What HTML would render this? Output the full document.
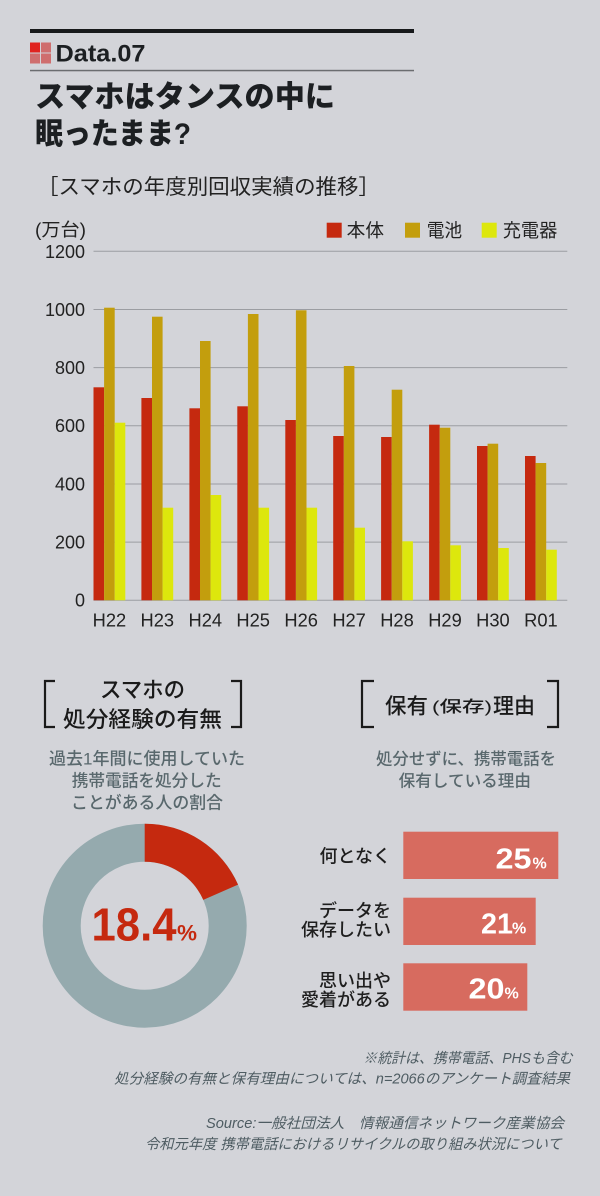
<!DOCTYPE html>
<html><head><meta charset="utf-8">
<style>
html,body{margin:0;padding:0;background:#d3d4d9;}
svg{display:block;}
.jp{font-family:"Liberation Sans","Noto Sans CJK JP",sans-serif;}
.lat{font-family:"Liberation Sans",sans-serif;}
</style></head>
<body>
<svg width="600" height="1196" viewBox="0 0 600 1196" xmlns="http://www.w3.org/2000/svg">
<rect width="600" height="1196" fill="#d3d4d9"/>

<!-- header -->
<rect x="30" y="29" width="384" height="4" fill="#17191b"/>
<rect x="30" y="42.5" width="10" height="10" fill="#e0231f"/>
<rect x="41" y="42.5" width="10" height="10" fill="#cf6e6e"/>
<rect x="30" y="53.5" width="10" height="10" fill="#cf6e6e"/>
<rect x="41" y="53.5" width="10" height="10" fill="#cf6e6e"/>
<text x="55.5" y="61.7" class="lat" font-size="24" font-weight="700" fill="#1c1f22" textLength="90" lengthAdjust="spacingAndGlyphs">Data.07</text>
<rect x="30" y="69.8" width="384" height="1.5" fill="#6b6d70"/>

<text x="35" y="107" class="jp" font-size="30" font-weight="900" fill="#1c1f22" textLength="300" lengthAdjust="spacingAndGlyphs">スマホはタンスの中に</text>
<text x="35" y="144" class="jp" font-size="30" font-weight="900" fill="#1c1f22" textLength="156" lengthAdjust="spacingAndGlyphs">眠ったまま?</text>

<text x="37" y="194" class="jp" font-size="21" fill="#222" textLength="343" lengthAdjust="spacingAndGlyphs">［スマホの年度別回収実績の推移］</text>

<text x="35" y="236" class="jp" font-size="18" fill="#222" textLength="51" lengthAdjust="spacingAndGlyphs">(万台)</text>

<!-- legend -->
<rect x="326.7" y="222.7" width="15" height="15" fill="#c5290f"/>
<text x="346.7" y="237" class="jp" font-size="18.5" fill="#222" textLength="37.3" lengthAdjust="spacingAndGlyphs">本体</text>
<rect x="405" y="222.7" width="15" height="15" fill="#c39e0d"/>
<text x="426.7" y="237" class="jp" font-size="18.5" fill="#222" textLength="35.5" lengthAdjust="spacingAndGlyphs">電池</text>
<rect x="481.7" y="222.7" width="15" height="15" fill="#dde70d"/>
<text x="502.7" y="237" class="jp" font-size="18.5" fill="#222" textLength="54.6" lengthAdjust="spacingAndGlyphs">充電器</text>

<!-- gridlines -->
<g stroke="#9b9da2" stroke-width="1">
<line x1="93.5" y1="251.3" x2="567.3" y2="251.3"/>
<line x1="93.5" y1="309.5" x2="567.3" y2="309.5"/>
<line x1="93.5" y1="367.6" x2="567.3" y2="367.6"/>
<line x1="93.5" y1="425.8" x2="567.3" y2="425.8"/>
<line x1="93.5" y1="484" x2="567.3" y2="484"/>
<line x1="93.5" y1="542.1" x2="567.3" y2="542.1"/>
<line x1="93.5" y1="600.3" x2="567.3" y2="600.3"/>
</g>
<g class="lat" font-size="18" fill="#222" text-anchor="end">
<text x="85" y="258">1200</text>
<text x="85" y="316">1000</text>
<text x="85" y="374">800</text>
<text x="85" y="432">600</text>
<text x="85" y="490.5">400</text>
<text x="85" y="548.5">200</text>
<text x="85" y="606.5">0</text>
</g>

<!-- bars -->
<g>
<!-- H22 -->
<rect x="93.5" y="387.3" width="10.6" height="213" fill="#c5290f"/>
<rect x="104.1" y="307.7" width="10.6" height="292.6" fill="#c39e0d"/>
<rect x="114.7" y="422.7" width="10.6" height="177.6" fill="#dde70d"/>
<!-- H23 -->
<rect x="141.4" y="398" width="10.6" height="202.3" fill="#c5290f"/>
<rect x="152" y="316.7" width="10.6" height="283.6" fill="#c39e0d"/>
<rect x="162.6" y="507.7" width="10.6" height="92.6" fill="#dde70d"/>
<!-- H24 -->
<rect x="189.4" y="408.3" width="10.6" height="192" fill="#c5290f"/>
<rect x="200" y="341" width="10.6" height="259.3" fill="#c39e0d"/>
<rect x="210.6" y="495" width="10.6" height="105.3" fill="#dde70d"/>
<!-- H25 -->
<rect x="237.3" y="406.3" width="10.6" height="194" fill="#c5290f"/>
<rect x="247.9" y="314" width="10.6" height="286.3" fill="#c39e0d"/>
<rect x="258.5" y="507.7" width="10.6" height="92.6" fill="#dde70d"/>
<!-- H26 -->
<rect x="285.3" y="420" width="10.6" height="180.3" fill="#c5290f"/>
<rect x="295.9" y="310.3" width="10.6" height="290" fill="#c39e0d"/>
<rect x="306.5" y="507.7" width="10.6" height="92.6" fill="#dde70d"/>
<!-- H27 -->
<rect x="333.2" y="436" width="10.6" height="164.3" fill="#c5290f"/>
<rect x="343.8" y="366" width="10.6" height="234.3" fill="#c39e0d"/>
<rect x="354.4" y="527.7" width="10.6" height="72.6" fill="#dde70d"/>
<!-- H28 -->
<rect x="381.1" y="437" width="10.6" height="163.3" fill="#c5290f"/>
<rect x="391.7" y="389.7" width="10.6" height="210.6" fill="#c39e0d"/>
<rect x="402.3" y="541.3" width="10.6" height="59" fill="#dde70d"/>
<!-- H29 -->
<rect x="429.1" y="424.7" width="10.6" height="175.6" fill="#c5290f"/>
<rect x="439.7" y="427.7" width="10.6" height="172.6" fill="#c39e0d"/>
<rect x="450.3" y="545.3" width="10.6" height="55" fill="#dde70d"/>
<!-- H30 -->
<rect x="477" y="446" width="10.6" height="154.3" fill="#c5290f"/>
<rect x="487.6" y="443.7" width="10.6" height="156.6" fill="#c39e0d"/>
<rect x="498.2" y="548" width="10.6" height="52.3" fill="#dde70d"/>
<!-- R01 -->
<rect x="525" y="456" width="10.6" height="144.3" fill="#c5290f"/>
<rect x="535.6" y="463" width="10.6" height="137.3" fill="#c39e0d"/>
<rect x="546.2" y="549.7" width="10.6" height="50.6" fill="#dde70d"/>
</g>

<g class="lat" font-size="18.3" fill="#222" text-anchor="middle">
<text x="109.4" y="626.7">H22</text>
<text x="157.3" y="626.7">H23</text>
<text x="205.3" y="626.7">H24</text>
<text x="253.2" y="626.7">H25</text>
<text x="301.2" y="626.7">H26</text>
<text x="349.1" y="626.7">H27</text>
<text x="397" y="626.7">H28</text>
<text x="445" y="626.7">H29</text>
<text x="492.9" y="626.7">H30</text>
<text x="540.9" y="626.7">R01</text>
</g>

<!-- left section -->
<g fill="none" stroke="#1a1a1a" stroke-width="2.2">
<polyline points="55,681 45,681 45,727 55,727"/>
<polyline points="231,681 241,681 241,727 231,727"/>
<polyline points="374,681 362,681 362,727 374,727"/>
<polyline points="547,681 558,681 558,727 547,727"/>
</g>
<text x="100" y="697.5" class="jp" font-size="22" font-weight="500" fill="#1a1a1a" textLength="85" lengthAdjust="spacingAndGlyphs">スマホの</text>
<text x="63" y="727" class="jp" font-size="22" font-weight="500" fill="#1a1a1a" textLength="159" lengthAdjust="spacingAndGlyphs">処分経験の有無</text>

<g class="jp" font-size="17" font-weight="500" fill="#59686d">
<text x="49" y="764.5" textLength="196" lengthAdjust="spacingAndGlyphs">過去1年間に使用していた</text>
<text x="71.7" y="786.5" textLength="150" lengthAdjust="spacingAndGlyphs">携帯電話を処分した</text>
<text x="71" y="808.5" textLength="152" lengthAdjust="spacingAndGlyphs">ことがある人の割合</text>
</g>

<!-- right section title -->
<text x="385" y="713.5" class="jp" font-size="21.5" font-weight="500" fill="#1a1a1a" textLength="43" lengthAdjust="spacingAndGlyphs">保有</text>
<text x="432" y="712" class="jp" font-size="16" font-weight="500" fill="#1a1a1a" textLength="60" lengthAdjust="spacingAndGlyphs">(保存)</text>
<text x="493" y="713.5" class="jp" font-size="21.5" font-weight="500" fill="#1a1a1a" textLength="42" lengthAdjust="spacingAndGlyphs">理由</text>

<g class="jp" font-size="16.5" font-weight="500" fill="#59686d">
<text x="376" y="764.5" textLength="180" lengthAdjust="spacingAndGlyphs">処分せずに、携帯電話を</text>
<text x="398.7" y="786.5" textLength="132.3" lengthAdjust="spacingAndGlyphs">保有している理由</text>
</g>

<!-- donut -->
<circle cx="144.7" cy="925.7" r="83" fill="none" stroke="#95aaae" stroke-width="38"/>
<path d="M144.7,823.7 A102,102 0 0 1 238.05,884.6 L203.28,899.91 A64,64 0 0 0 144.7,861.7 Z" fill="#c5290f"/>
<text x="91.5" y="940.7" class="lat" font-size="46" font-weight="700" fill="#c5290f" textLength="85" lengthAdjust="spacingAndGlyphs">18.4</text>
<text x="177" y="940.7" class="lat" font-size="22" font-weight="700" fill="#c5290f" textLength="20" lengthAdjust="spacingAndGlyphs">%</text>

<!-- right bars -->
<rect x="403.3" y="831.7" width="155" height="47.3" fill="#d76b5f"/>
<rect x="403.3" y="897.7" width="132.4" height="47.3" fill="#d76b5f"/>
<rect x="403.3" y="963.3" width="124" height="47.4" fill="#d76b5f"/>

<g class="lat" font-weight="700" fill="#ffffff">
<text x="495.5" y="868.3" font-size="29" textLength="36" lengthAdjust="spacingAndGlyphs">25</text>
<text x="532.5" y="868.3" font-size="16">%</text>
<text x="481" y="933.5" font-size="29" textLength="32" lengthAdjust="spacingAndGlyphs">21</text>
<text x="512" y="933.5" font-size="16">%</text>
<text x="468.5" y="998.5" font-size="29" textLength="36" lengthAdjust="spacingAndGlyphs">20</text>
<text x="504.5" y="998.5" font-size="16">%</text>
</g>

<g class="jp" font-size="18" font-weight="500" fill="#1e1e1e" text-anchor="end">
<text x="391" y="862.5">何となく</text>
<text x="391" y="917">データを</text>
<text x="391" y="936">保存したい</text>
<text x="391" y="987">思い出や</text>
<text x="391" y="1006">愛着がある</text>
</g>

<!-- footnotes -->
<g class="jp" font-size="14.5" font-style="italic" fill="#4e5c62">
<text x="363.3" y="1063" textLength="209.4" lengthAdjust="spacingAndGlyphs">※統計は、携帯電話、PHSも含む</text>
<text x="114" y="1083.5" textLength="456" lengthAdjust="spacingAndGlyphs">処分経験の有無と保有理由については、n=2066のアンケート調査結果</text>
<text x="206" y="1128" textLength="358" lengthAdjust="spacingAndGlyphs">Source:一般社団法人　情報通信ネットワーク産業協会</text>
<text x="145" y="1149" textLength="416.7" lengthAdjust="spacingAndGlyphs">令和元年度 携帯電話におけるリサイクルの取り組み状況について</text>
</g>
</svg>
</body></html>
